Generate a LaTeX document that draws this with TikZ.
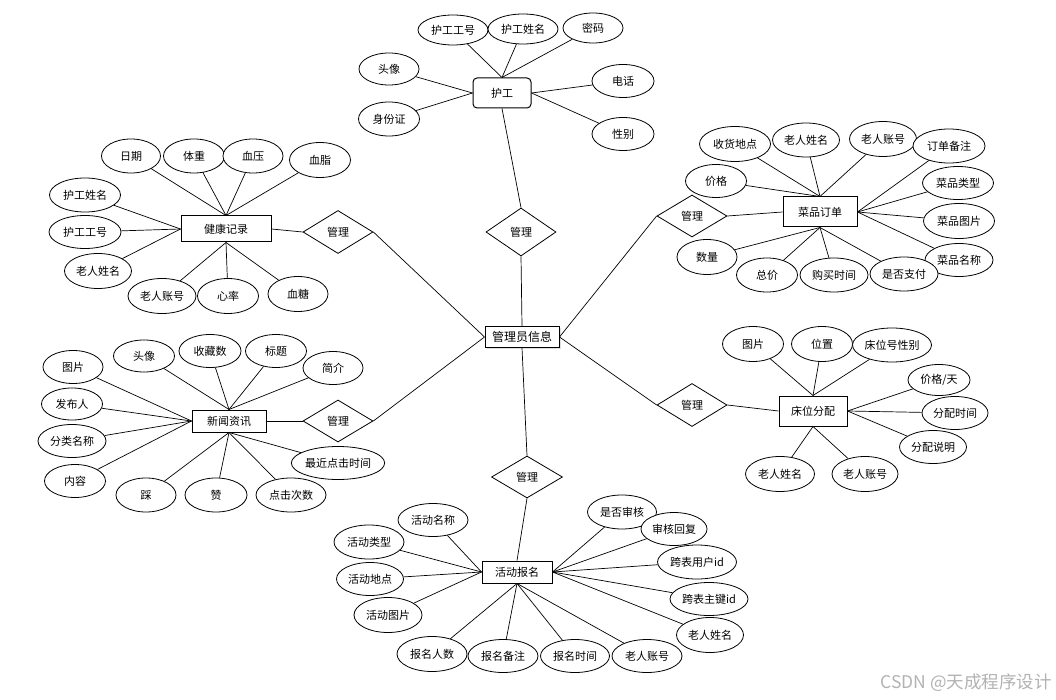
\documentclass[tikz,border=0pt]{standalone}
\usepackage{fontspec}
\setmainfont{Noto Sans CJK SC}
\usetikzlibrary{shapes.geometric,shadows}
\begin{document}
\begin{tikzpicture}[x=1pt,y=-1pt,
  lbl/.style={font=\fontsize{11}{13}\selectfont},
  attr/.style={ellipse, draw, fill=white, line width=0.8pt, inner sep=0pt, lbl},
  ent/.style={rectangle, draw, fill=white, line width=1pt, inner sep=0pt, lbl},
  rel/.style={diamond, draw, fill=white, line width=0.8pt, inner sep=0pt, minimum width=70pt, lbl},
  link/.style={line width=0.7pt}]
\useasboundingbox (0,0) rectangle (1056,700);

% entities
\node[ent, minimum width=74, minimum height=21, drop shadow={opacity=0.25, shadow xshift=1.5pt, shadow yshift=-1.5pt}, font=\fontsize{12}{14}\selectfont] (M) at (522,337) {管理员信息};
\node[ent, rounded corners=4pt, minimum width=58, minimum height=30] (N) at (502,93) {护工};
\node[ent, minimum width=90, minimum height=26] (H) at (226,229) {健康记录};
\node[ent, minimum width=74, minimum height=30] (O) at (820,212) {菜品订单};
\node[ent, minimum width=74, minimum height=22] (X) at (229,421) {新闻资讯};
\node[ent, minimum width=68, minimum height=30] (B) at (813,411) {床位分配};
\node[ent, minimum width=70, minimum height=22] (A) at (517,572) {活动报名};

% relationships
\node[rel, minimum height=48] (RN) at (521,232) {管理};
\node[rel, minimum height=43] (RH) at (338,232) {管理};
\node[rel, minimum height=42] (RO) at (692,216) {管理};
\node[rel, minimum height=42] (RX) at (338,421) {管理};
\node[rel, minimum height=43] (RB) at (692,405) {管理};
\node[rel, minimum width=71, minimum height=42] (RA) at (527,477) {管理};

\draw[link] (N.south) -- (RN.north);
\draw[link] (RN.south) -- (M.north);
\draw[link] (H.east) -- (RH.west);
\draw[link] (RH.east) -- (M.west);
\draw[link] (O.west) -- (RO.east);
\draw[link] (RO.west) -- (M.east);
\draw[link] (X.east) -- (RX.west);
\draw[link] (RX.east) -- (M.west);
\draw[link] (B.west) -- (RB.east);
\draw[link] (RB.west) -- (M.east);
\draw[link] (M.south) -- (RA.north);
\draw[link] (RA.south) -- (A.north);

% attributes
\foreach \nm/\x/\y/\w/\h/\t/\anc in {
  n1/453/30/70/30/护工工号/N.north,
  n2/523/29/70/30/护工姓名/N.north,
  n3/593/28/60/30/密码/N.north,
  n4/389/69/60/32/头像/N.west,
  n5/389/119/61/34/身份证/N.west,
  n6/623/81/62/33/电话/N.east,
  n7/623/134/62/33/性别/N.east,
  h1/131/156/59/34/日期/H.north,
  h2/194/156/61/34/体重/H.north,
  h3/253/156/60/34/血压/H.north,
  h4/320/160/61/35/血脂/H.north,
  h5/85/195/71/34/护工姓名/H.west,
  h6/85/232/72/33/护工工号/H.west,
  h7/98/271/67/35/老人姓名/H.west,
  h8/162/296/68/35/老人账号/H.south,
  h9/228/296/61/35/心率/H.south,
  h10/298/294/60/35/血糖/H.south,
  o1/735/144/71/35/收货地点/O.north,
  o2/806/140/67/34/老人姓名/O.north,
  o3/883/139/67/35/老人账号/O.north,
  o4/716/181/61/33/价格/O.north,
  o5/949/146/72/34/订单备注/O.east,
  o6/958/183/71/33/菜品类型/O.east,
  o7/959/221/71/35/菜品图片/O.east,
  o8/959/260/68/33/菜品名称/O.east,
  o9/707/257/60/35/数量/O.south,
  o10/767/275/61/34/总价/O.south,
  o11/834/275/68/34/购买时间/O.south,
  o12/904/274/68/34/是否支付/O.south,
  x1/73/367/60/33/图片/X.west,
  x2/144/356/61/32/头像/X.north,
  x3/210/351/62/33/收藏数/X.north,
  x4/276/351/61/33/标题/X.north,
  x5/333/368/60/33/简介/X.north,
  x6/72/404/61/32/发布人/X.west,
  x7/72/441/68/33/分类名称/X.west,
  x8/75/481/61/33/内容/X.west,
  x9/146/495/60/34/踩/X.south,
  x10/216/495/62/34/赞/X.south,
  x11/291/495/70/34/点击次数/X.south,
  x12/338/463/90/33/最近点击时间/X.south,
  b1/753/344/61/35/图片/B.north,
  b2/822/344/61/35/位置/B.north,
  b3/892/345/79/34/床位号性别/B.north,
  b5/955/413/66/33/分配时间/B.east,
  b6/933/447/67/33/分配说明/B.east,
  b7/780/474/69/35/老人姓名/B.south,
  b8/865/474/66/35/老人账号/B.south,
  a1/433/520/70/33/活动名称/A.west,
  a2/369/542/70/34/活动类型/A.west,
  a3/370/579/67/33/活动地点/A.west,
  a4/388/615/68/35/活动图片/A.west,
  a5/622/512/69/34/是否审核/A.east,
  a6/674/529/66/33/审核回复/A.east,
  a7/697/562/79/34/跨表用户id/A.east,
  a8/709/599/78/33/跨表主键id/A.east,
  a9/710/635/67/35/老人姓名/A.east,
  a10/432/654/70/35/报名人数/A.south,
  a11/503/656/70/33/报名备注/A.south,
  a12/575/656/69/33/报名时间/A.south,
  a13/647/656/70/33/老人账号/A.south}
{
  \node[attr, minimum width=\w, minimum height=\h] (\nm) at (\x,\y) {\t};
  \draw[link] (\nm) -- (\anc);
}
\node[attr, minimum width=62, minimum height=31] (b4) at (939,380) {价格/天};
\draw[link] (b4) -- (B.east);

% watermark
\node[font=\fontsize{17.5}{20}\selectfont, text=black!30, anchor=east, inner sep=0pt] (wm) at (1052,683) {CSDN @天成程序设计};
\end{tikzpicture}
\end{document}
